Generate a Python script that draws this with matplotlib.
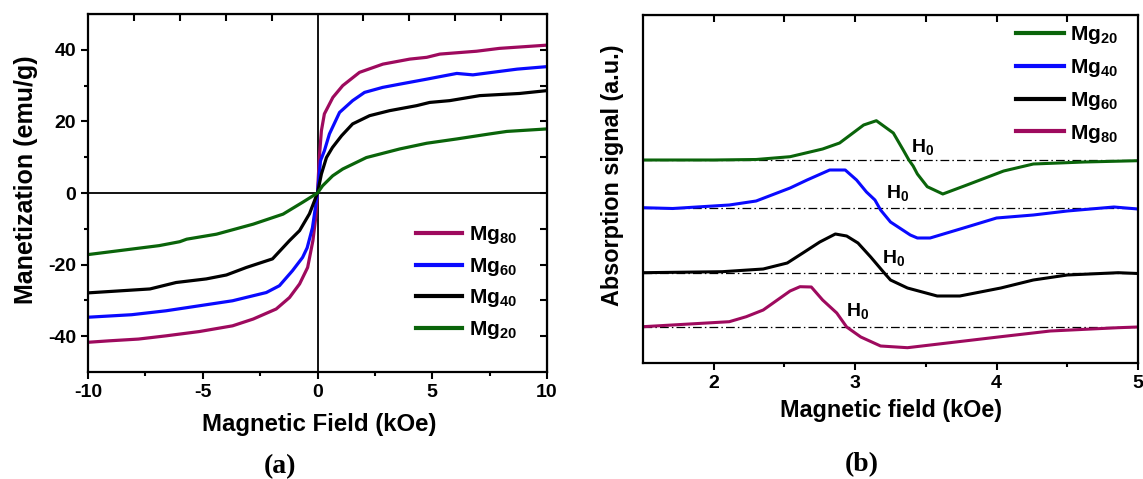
import matplotlib
matplotlib.use("Agg")
import matplotlib.pyplot as plt
import numpy as np

plt.rcParams['font.family'] = ['Liberation Sans', 'DejaVu Sans']
plt.rcParams['font.weight'] = 'bold'
plt.rcParams['axes.unicode_minus'] = False
plt.rcParams['mathtext.fontset'] = 'custom'
plt.rcParams['mathtext.bf'] = 'Liberation Sans:bold'
plt.rcParams['mathtext.rm'] = 'Liberation Sans:bold'
plt.rcParams['mathtext.default'] = 'bf'

PURPLE = '#9E0A5E'
BLUE = '#0A0AFF'
BLACK = '#000000'
GREEN = '#0A640A'

# ---------------- (a) magnetization loops ----------------
field_mg80 = [-10, -9.1, -7.8, -6.6, -5.15, -3.7, -2.8, -1.8, -1.22, -0.78, -0.43, -0.2, -0.08, 0,
              0.08, 0.17, 0.3, 0.67, 1.1, 1.83, 2.85, 4.02, 4.76, 5.33, 6.93, 7.93, 10]
mag_mg80 = [-41.7, -41.3, -40.8, -39.9, -38.7, -37.1, -35.2, -32.4, -29.2, -25.4, -20.8, -13.3, -7, 0,
            10, 17.4, 22.1, 26.7, 30.0, 33.7, 36.0, 37.4, 37.9, 38.8, 39.6, 40.4, 41.3]

field_mg60 = [-10, -8.1, -6.6, -5.15, -3.7, -2.23, -1.66, -1.09, -0.65, -0.45, -0.22, 0,
              0.13, 0.3, 0.52, 0.96, 1.53, 2.05, 2.84, 3.58, 4.76, 5.33, 6.07, 6.77, 8.7, 10]
mag_mg60 = [-34.7, -34.0, -32.9, -31.5, -30.1, -27.8, -25.9, -21.7, -18.0, -15.3, -9.7, 0,
            9.0, 11.8, 16.5, 22.5, 25.8, 28.1, 29.5, 30.4, 31.8, 32.5, 33.4, 33.0, 34.6, 35.3]

field_mg40 = [-10, -7.3, -6.16, -4.85, -3.97, -3.1, -1.96, -1.22, -0.78, -0.35, 0,
              0.17, 0.39, 0.65, 1.05, 1.53, 2.27, 3.14, 4.32, 4.89, 5.76, 7.07, 8.8, 10]
mag_mg40 = [-27.9, -26.8, -25.0, -24.0, -22.9, -20.8, -18.4, -13.3, -10.5, -5.8, 0,
            5.3, 9.9, 12.7, 16.0, 19.3, 21.6, 23.0, 24.4, 25.3, 25.8, 27.2, 27.8, 28.6]

field_mg20 = [-10, -9.5, -6.9, -6.0, -5.7, -4.4, -2.8, -1.5, -0.65, 0,
              0.22, 0.66, 1.1, 2.13, 3.58, 4.76, 6.07, 7.5, 8.25, 10]
mag_mg20 = [-17.2, -16.8, -14.7, -13.6, -12.9, -11.5, -8.7, -5.9, -2.6, 0,
            2.0, 4.8, 6.7, 9.9, 12.3, 13.9, 15.1, 16.5, 17.2, 17.9]

# ---------------- (b) absorption spectra ----------------
field_b20 = [1.5, 2.0, 2.3, 2.54, 2.77, 2.89, 3.06, 3.15, 3.27, 3.34, 3.38, 3.41, 3.44, 3.51,
             3.62, 3.79, 4.05, 4.26, 4.62, 5.0]
sig_b20 = [0, 0, 0.5, 3.3, 11, 17, 35, 39.3, 27, 10, 0, -6, -14, -26.7,
           -34, -25, -11, -4, -2, -0.7]

field_b40 = [1.5, 1.71, 2.11, 2.30, 2.54, 2.66, 2.82, 2.93, 3.01, 3.08, 3.14, 3.18, 3.25, 3.39,
             3.44, 3.53, 3.79, 4.0, 4.26, 4.5, 4.83, 5.0]
sig_b40 = [0.3, -0.5, 3, 7, 20, 28, 38, 38, 28, 16, 8, -2, -14, -27,
           -30, -30, -19, -10, -7, -3, 1, -1]

field_b60 = [1.5, 2.06, 2.35, 2.52, 2.63, 2.75, 2.86, 2.94, 3.02, 3.11, 3.20, 3.25, 3.37, 3.58,
             3.74, 4.03, 4.26, 4.50, 4.86, 5.0]
sig_b60 = [0.3, 1.3, 4, 10, 20, 31, 39, 37, 30, 16, 1, -7, -15, -23,
           -23, -15, -7, -2, 0.3, -0.5]

field_b80 = [1.5, 2.11, 2.23, 2.35, 2.54, 2.61, 2.69, 2.77, 2.87, 2.94, 3.04, 3.18, 3.37, 3.67,
             4.03, 4.38, 4.86, 5.0]
sig_b80 = [0.3, 5.3, 10.3, 17, 36, 40.3, 40, 27, 14, 0, -10, -19, -20.7, -15.7,
           -9.7, -4, -0.7, 0]

offsets_b = {'20': 203, '40': 155, '60': 90, '80': 36}
h0_labels = [(3.48, 216), (3.30, 170), (3.27, 105), (3.02, 52)]

W, H = 1143, 479
fig = plt.figure(figsize=(W / 100, H / 100), dpi=100)


def px_axes(left, top, right, bottom):
    return fig.add_axes([left / W, 1 - bottom / H, (right - left) / W, (bottom - top) / H])


TICK_FS = 14
LEG_FS = 15

# ---- panel (a)
ax = px_axes(88, 14, 547, 372)
ax.plot(field_mg80, mag_mg80, color=PURPLE, lw=2.3, label=r'Mg$_{80}$')
ax.plot(field_mg60, mag_mg60, color=BLUE, lw=2.3, label=r'Mg$_{60}$')
ax.plot(field_mg40, mag_mg40, color=BLACK, lw=2.3, label=r'Mg$_{40}$')
ax.plot(field_mg20, mag_mg20, color=GREEN, lw=2.3, label=r'Mg$_{20}$')
ax.axhline(0, color='black', lw=1.3, zorder=0)
ax.axvline(0, color='black', lw=1.3, zorder=0)
ax.set_xlim(-10, 10)
ax.set_ylim(-50, 50)
ax.set_xticks([-10, -5, 0, 5, 10])
ax.set_xticks([-7.5, -2.5, 2.5, 7.5], minor=True)
ax.set_yticks([-40, -20, 0, 20, 40])
ax.set_yticks([-30, -10, 10, 30], minor=True)
ax.tick_params(which='major', direction='out', length=5, width=1.5, labelsize=TICK_FS)
ax.tick_params(which='minor', direction='out', length=3, width=1.5)
for s in ax.spines.values():
    s.set_linewidth(1.6)
top_a = ax.secondary_xaxis('top')
top_a.set_xticks([-8, -6, -4, -2, 2, 4, 6, 8])
top_a.tick_params(direction='in', length=5, width=1.5, labeltop=False)
right_a = ax.secondary_yaxis('right')
right_a.set_yticks(np.arange(-40, 50, 10))
right_a.tick_params(direction='in', length=5, width=1.5, labelright=False)
leg = ax.legend(loc='upper left', bbox_to_anchor=((418 - 88 - 8) / 459, 1 - (218 - 14) / 358),
                frameon=False, fontsize=LEG_FS, handlelength=2.2, handletextpad=0.35,
                labelspacing=0.46, borderaxespad=0, borderpad=0.3)
for ln in leg.get_lines():
    ln.set_linewidth(3)

fig.text(319 / W, 1 - 425 / H, 'Magnetic Field (kOe)', ha='center', va='center',
         fontsize=17.3, fontweight='bold')
fig.text(26 / W, 1 - 180 / H, 'Manetization (emu/g)', ha='center', va='center',
         rotation=90, fontsize=18, fontweight='bold')
fig.text(280 / W, 1 - 467 / H, '(a)', ha='center', va='center', fontsize=20,
         fontweight='bold', family='Liberation Serif')

# ---- panel (b)
bx = px_axes(643, 15, 1138, 363)
series_b = [('20', field_b20, sig_b20, GREEN), ('40', field_b40, sig_b40, BLUE),
            ('60', field_b60, sig_b60, BLACK), ('80', field_b80, sig_b80, PURPLE)]
for key, fx, sy, col in series_b:
    off = offsets_b[key]
    bx.axhline(off, color='black', lw=0.9, ls=(0, (7, 2.5, 1.2, 2.5)), zorder=1)
    bx.plot(fx, np.asarray(sy) + off, color=col, lw=2.2, zorder=2, label=r'Mg$_{%s}$' % key)
for xh, yh in h0_labels:
    bx.text(xh, yh, r'H$_0$', ha='center', va='center', fontsize=14)
bx.set_xlim(1.5, 5)
bx.set_ylim(0, 348)
bx.set_xticks([2, 3, 4, 5])
bx.set_xticks([2.5, 3.5, 4.5], minor=True)
bx.set_yticks([])
bx.tick_params(which='major', direction='out', length=5, width=1.5, labelsize=TICK_FS)
bx.tick_params(which='minor', direction='out', length=3, width=1.5)
for s in bx.spines.values():
    s.set_linewidth(1.6)
top_b = bx.secondary_xaxis('top')
top_b.set_xticks(np.arange(2, 5.0, 0.5))
top_b.tick_params(direction='in', length=5, width=1.5, labeltop=False)
legb = bx.legend(loc='upper left', bbox_to_anchor=((1018 - 643 - 8) / 495, 1 - (18 - 15) / 348),
                 frameon=False, fontsize=LEG_FS, handlelength=2.3, handletextpad=0.3,
                 labelspacing=0.52, borderaxespad=0, borderpad=0.3)
for ln in legb.get_lines():
    ln.set_linewidth(3)

fig.text(891 / W, 1 - 410 / H, 'Magnetic field (kOe)', ha='center', va='center',
         fontsize=16.8, fontweight='bold')
fig.text(612 / W, 1 - 175 / H, 'Absorption signal (a.u.)', ha='center', va='center',
         rotation=90, fontsize=16.8, fontweight='bold')
fig.text(862 / W, 1 - 465 / H, '(b)', ha='center', va='center', fontsize=20,
         fontweight='bold', family='Liberation Serif')

fig.savefig('out.png', dpi=100)
